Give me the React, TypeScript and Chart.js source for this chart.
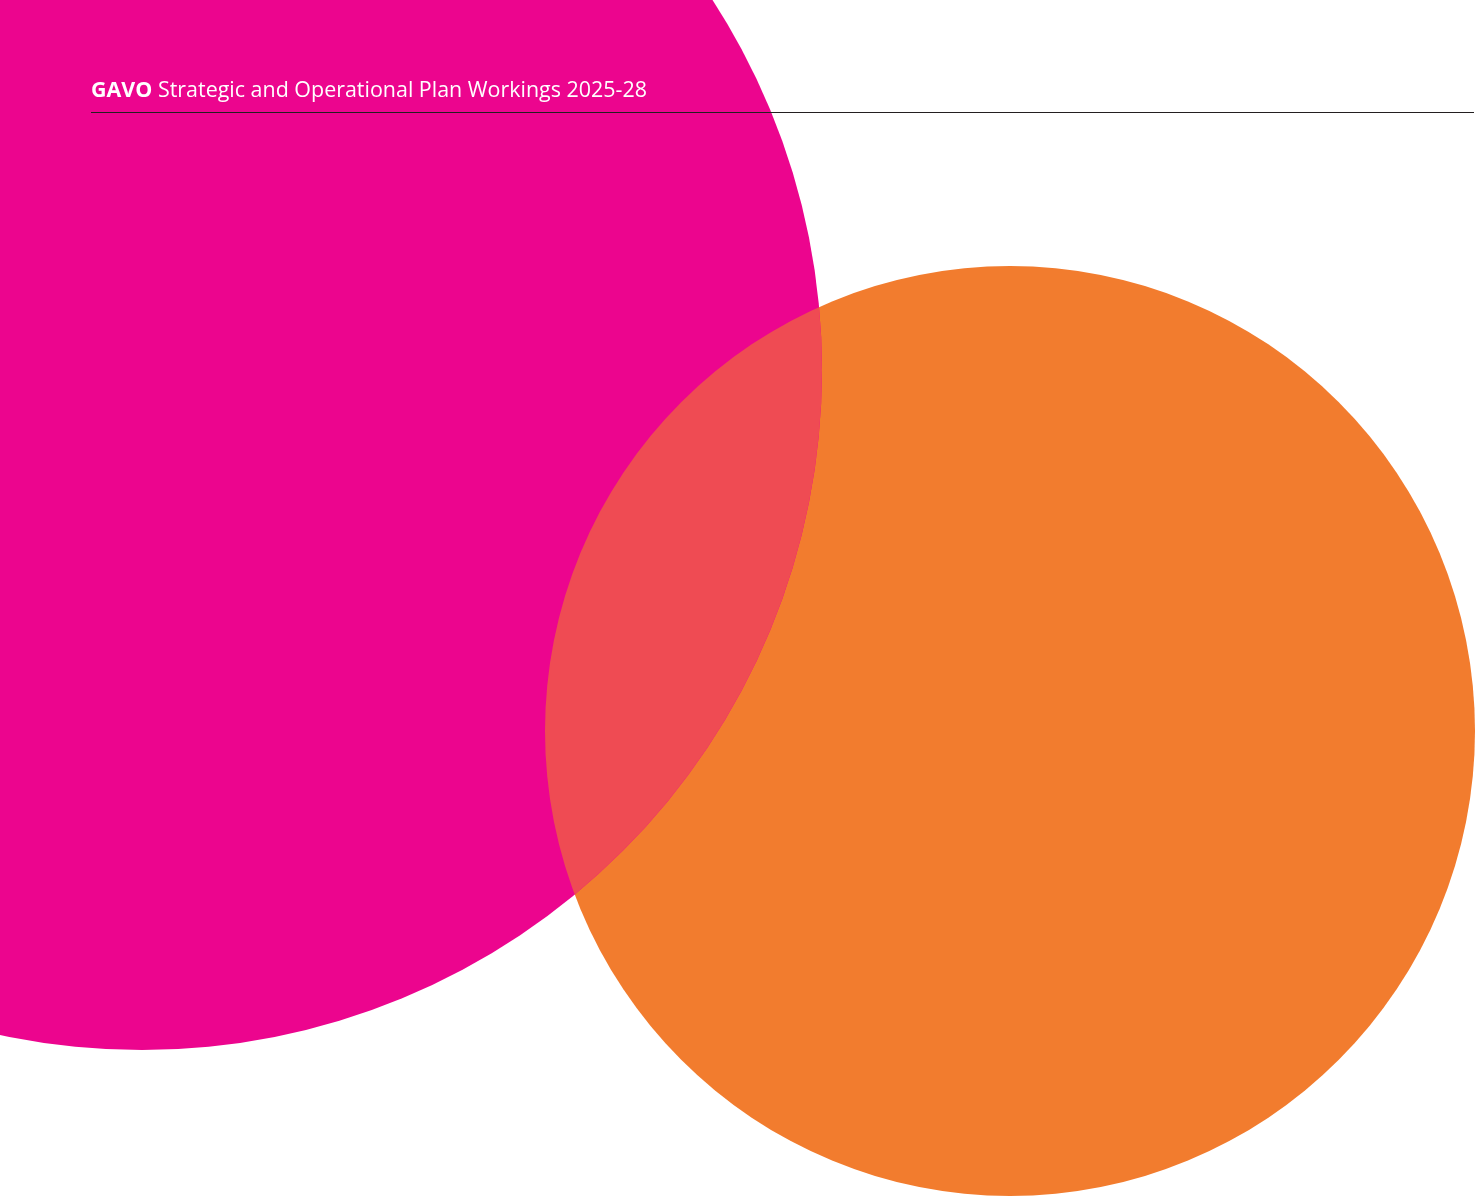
import React, { useEffect, useRef } from "react";
import { Chart, registerables } from "chart.js";

Chart.register(...registerables);

// ---- data ----
const circleLabels = ["Pink", "Orange"];
const centerX = [142, 1010];
const centerY = [370, 731];
const radii = [680, 465];
const circleColors = ["#EC058E", "#F27C2E"];
const overlapColor = "#EF4B53";
const headerBold = "GAVO";
const headerRest = "Strategic and Operational Plan Workings 2025-28";

const W = 1477;
const H = 1202;

const overlapPlugin = {
  id: "overlap",
  afterDatasetsDraw(chart: any) {
    const a = chart.getDatasetMeta(0).data[0];
    const b = chart.getDatasetMeta(1).data[0];
    if (!a || !b) return;
    const ctx = chart.ctx;
    ctx.save();
    ctx.beginPath();
    ctx.arc(b.x, b.y, b.options.radius, 0, Math.PI * 2);
    ctx.clip();
    ctx.beginPath();
    ctx.arc(a.x, a.y, a.options.radius, 0, Math.PI * 2);
    ctx.fillStyle = overlapColor;
    ctx.fill();
    ctx.restore();
  },
};

export default function App() {
  const canvasRef = useRef<HTMLCanvasElement | null>(null);
  const textRef = useRef<HTMLDivElement | null>(null);

  useEffect(() => {
    const canvas = canvasRef.current;
    if (!canvas) return;
    const chart = new Chart(canvas, {
      type: "bubble",
      data: {
        datasets: circleLabels.map((label, i) => ({
          label,
          data: [{ x: centerX[i], y: centerY[i], r: radii[i] }],
          backgroundColor: circleColors[i],
          hoverBackgroundColor: circleColors[i],
          borderWidth: 0,
          hoverBorderWidth: 0,
          clip: false as any,
        })),
      },
      options: {
        responsive: false,
        devicePixelRatio: 1,
        animation: false,
        events: [],
        layout: { padding: 0, autoPadding: false },
        plugins: {
          legend: { display: false },
          tooltip: { enabled: false },
        },
        scales: {
          x: { type: "linear", min: 0, max: W, display: false },
          y: { type: "linear", min: 0, max: H, reverse: true, display: false },
        },
      },
      plugins: [overlapPlugin],
    });
    // fit header text width
    const t = textRef.current;
    if (t) {
      const w = t.getBoundingClientRect().width;
      if (w > 0) t.style.transform = `scaleX(${556 / w})`;
    }
    return () => chart.destroy();
  }, []);

  return (
    <div style={{ position: "absolute", left: 0, top: 0, width: W, height: H, overflow: "hidden", background: "#fff" }}>
      <canvas ref={canvasRef} width={W} height={H} style={{ position: "absolute", left: 0, top: 0, width: W, height: H }} />
      <div
        ref={textRef}
        style={{
          position: "absolute",
          left: 91,
          top: 75,
          whiteSpace: "nowrap",
          color: "#ffffff",
          fontFamily: "'Open Sans', sans-serif",
          fontSize: 21.5,
          lineHeight: "28px",
          transformOrigin: "0 0",
        }}
      >
        <span style={{ fontWeight: 700 }}>{headerBold}</span> <span>{headerRest}</span>
      </div>
      <div style={{ position: "absolute", left: 91, top: 112, width: 1383, height: 1, background: "#231F20" }} />
    </div>
  );
}
